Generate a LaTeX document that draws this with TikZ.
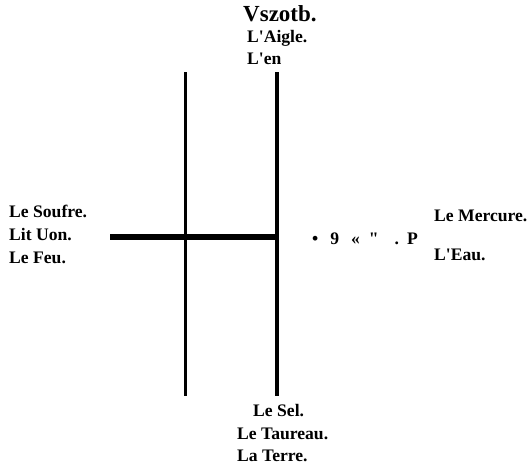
\documentclass[tikz,border=0pt]{standalone}
\usepackage{fontspec}
\setmainfont{Liberation Serif}[Ligatures=TeXOff]
\usepackage{tikz}
\usetikzlibrary{positioning}
\tikzset{
  basetext/.style={inner sep=0pt, anchor=base west,
                   font=\bfseries\fontsize{17.6}{20}\selectfont},
  titletext/.style={basetext, font=\bfseries\fontsize{23}{26}\selectfont},
  pillar/.style={line width=3.5pt},
  crossbar/.style={line width=5.5pt}
}

\begin{document}
\begin{tikzpicture}[x=1pt, y=-1pt]
  \useasboundingbox (0,0) rectangle (532,464);

  % ── top ──
  \node[titletext] (title) at (243,21) {Vszotb.};
  \node[basetext] (aigle) at (247,42) {L'Aigle.};
  \node[basetext] (en) at (247,64) {L'en};

  % ── left ──
  \node[basetext] (soufre) at (9,217) {Le Soufre.};
  \node[basetext] (lituon) at (9,240) {Lit Uon.};
  \node[basetext] (feu) at (9,263) {Le Feu.};

  % ── right ──
  \node[basetext] (signs) at (312,244)
      {•\hspace{12pt}9\hspace{12pt}«\hspace{9pt}"\hspace{16pt}.\hspace{8pt}P};
  \node[basetext] (mercure) at (434,221) {Le Mercure.};
  \node[basetext] (eau) at (434,260) {L'Eau.};

  % ── bottom ──
  \node[basetext] (sel) at (253,416) {Le Sel.};
  \node[basetext] (taureau) at (237,439) {Le Taureau.};
  \node[basetext] (terre) at (237,461) {La Terre.};

  % ── the cross ──
  \coordinate (lefttop) at (185.5,72);
  \coordinate (leftbot) at (185.5,395.5);
  \coordinate (righttop) at (277,72);
  \coordinate (rightbot) at (277,395.5);
  \coordinate (barstart) at (110,237);
  \coordinate (barend) at (277,237);

  \draw[pillar] (lefttop) -- (leftbot);
  \draw[pillar] (righttop) -- (rightbot);
  \draw[crossbar] (barstart) -- (barend);

\end{tikzpicture}
\end{document}
